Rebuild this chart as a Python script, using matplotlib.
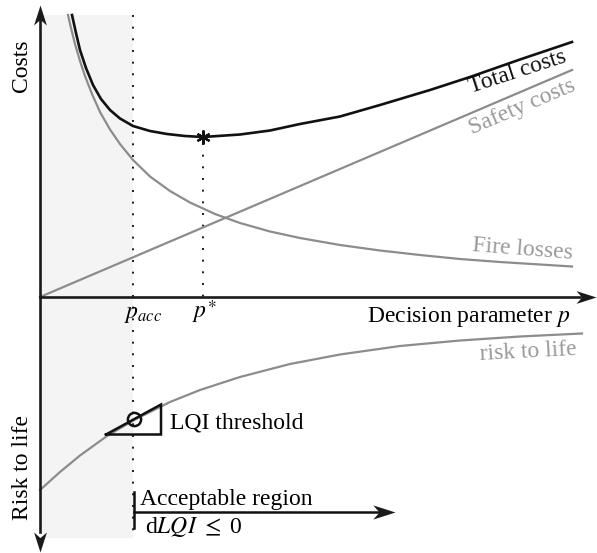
import numpy as np
import matplotlib
matplotlib.use("Agg")
import matplotlib.pyplot as plt
from matplotlib.path import Path
from matplotlib.markers import MarkerStyle
from matplotlib.transforms import Affine2D

plt.rcParams['font.family'] = ['Liberation Serif', 'DejaVu Serif']
plt.rcParams['mathtext.fontset'] = 'stix'

# curves (arbitrary units, p along x)
p_total = [0.32, 0.36, 0.40, 0.46, 0.53, 0.61, 0.70, 0.80, 0.93, 1.10, 1.27, 1.45,
           1.63, 2.00, 2.30, 2.60, 3.00, 3.40, 3.90, 4.30, 4.80, 5.32]
total_costs = [2.82, 2.64, 2.47, 2.29, 2.12, 1.98, 1.87, 1.785, 1.71, 1.66, 1.63, 1.61,
               1.60, 1.625, 1.665, 1.73, 1.805, 1.92, 2.07, 2.20, 2.375, 2.55]

p_fire = [0.28, 0.31, 0.35, 0.40, 0.45, 0.52, 0.60, 0.70, 0.80, 0.93, 1.10, 1.30,
          1.50, 1.75, 2.00, 2.30, 2.60, 3.00, 3.40, 3.80, 4.20, 4.60, 5.00, 5.32]
fire_losses = [2.82, 2.69, 2.53, 2.36, 2.21, 2.03, 1.85, 1.675, 1.53, 1.37, 1.205, 1.06,
               0.945, 0.83, 0.74, 0.655, 0.59, 0.52, 0.465, 0.42, 0.38, 0.35, 0.325, 0.305]

p_safety = [0.0, 5.32]
safety_costs = [0.0, 2.27]

p_risk = [0.0, 0.20, 0.40, 0.67, 0.95, 1.30, 1.60, 2.00, 2.50, 3.00, 3.60, 4.20, 4.80, 5.42]
risk_to_life = [-1.93, -1.75, -1.585, -1.39, -1.225, -1.05, -0.93, -0.80, -0.67, -0.575,
                -0.49, -0.435, -0.395, -0.365]

p_acc = 0.93
p_star = 1.63
cost_star = 1.60
risk_acc = -1.22
tri_p = [0.66, 1.21, 1.21, 0.66]
tri_r = [-1.375, -1.075, -1.375, -1.375]

GRAY = '#8c8c8c'
TGRAY = '#999999'
FS = 17

fig = plt.figure(figsize=(5.97, 5.53), dpi=100)
ax = fig.add_axes([0, 0, 1, 1])
ax.set_xlim(-0.40, 5.57)
ax.set_ylim(-2.56, 2.97)
ax.axis('off')

head_path = Path([(0, 0), (-1, 0.32), (-0.72, 0), (-1, -0.32), (0, 0)],
                 [Path.MOVETO, Path.LINETO, Path.LINETO, Path.LINETO, Path.CLOSEPOLY])


def arrow_head(x, y, angle, ms=28.8):
    m = MarkerStyle(head_path, transform=Affine2D().rotate_deg(angle))
    ax.plot([x], [y], marker=m, ms=ms, color='#1a1a1a', mew=0, ls='none',
            clip_on=False, zorder=6)


# acceptable-region shading and p_acc line
ax.fill_between([0, p_acc], -2.41, 2.82, color='#f4f4f4', lw=0, zorder=0)
ax.plot([p_acc, p_acc], [2.82, -2.41], color='#1a1a1a', lw=1.4,
        ls=(0, (1, 5)), dash_capstyle='butt', zorder=1)
ax.plot([p_star, p_star], [cost_star - 0.06, 0], color='#1a1a1a', lw=1.4,
        ls=(0, (1, 5)), dash_capstyle='butt', zorder=1)

# axes with arrows
ax.plot([0, 0], [2.82, -2.35], color='#1a1a1a', lw=1.9, zorder=5)
arrow_head(0, 2.92, 90)
arrow_head(0, -2.55, -90)
ax.plot([0, 5.40], [0, 0], color='#1a1a1a', lw=1.9, zorder=5)
arrow_head(5.56, 0, 0)

# curves
ax.plot(p_safety, safety_costs, color=GRAY, lw=1.6, zorder=2)
ax.plot(p_fire, fire_losses, color=GRAY, lw=1.6, zorder=2)
ax.plot(p_total, total_costs, color='#111111', lw=1.9, zorder=3)
ax.plot(p_risk, risk_to_life, color=GRAY, lw=1.6, zorder=2)

ax.plot([p_star], [cost_star], marker=(6, 2, 0), ms=10, mew=1.6, color='#111111', zorder=4)

# LQI threshold triangle
ax.plot(tri_p, tri_r, color='#111111', lw=1.8, solid_joinstyle='miter', zorder=4)
ax.plot([p_acc + 0.01], [risk_acc], marker='o', ms=9.5, mfc='none', mec='#111111',
        mew=1.8, zorder=4)

# acceptable region arrow
ax.plot([p_acc + 0.01, p_acc + 0.01], [-1.95, -2.31], color='#111111', lw=1.8, zorder=4)
ax.plot([p_acc + 0.01, 3.40], [-2.15, -2.15], color='#111111', lw=1.8, zorder=4)
arrow_head(3.55, -2.15, 0, ms=32)

# texts
ax.text(-0.18, 2.31, 'Costs', rotation=90, ha='center', va='center', fontsize=FS)
ax.text(-0.18, -1.71, 'Risk to life', rotation=90, ha='center', va='center', fontsize=FS)
ax.text(5.30, -0.25, 'Decision parameter $p$', ha='right', va='baseline', fontsize=FS)
ax.text(0.84, -0.21, '$p_{acc}$', ha='left', va='baseline', fontsize=FS)
ax.text(1.52, -0.21, r'$p^{\ast}$', ha='left', va='baseline', fontsize=FS)
ax.text(4.78, 2.25, 'Total costs', rotation=18, rotation_mode='anchor',
        ha='center', va='center', fontsize=FS, color='#111111')
ax.text(4.82, 1.90, 'Safety costs', rotation=23, rotation_mode='anchor',
        ha='center', va='center', fontsize=FS, color=TGRAY)
ax.text(4.83, 0.48, 'Fire losses', rotation=-4.5, rotation_mode='anchor',
        ha='center', va='center', fontsize=FS, color=TGRAY)
ax.text(4.88, -0.55, 'risk to life', rotation=3, rotation_mode='anchor',
        ha='center', va='center', fontsize=FS, color=TGRAY)
ax.text(1.30, -1.31, 'LQI threshold', ha='left', va='baseline', fontsize=FS)
ax.text(1.00, -2.08, 'Acceptable region', ha='left', va='baseline', fontsize=FS)
ax.text(1.05, -2.36, r'd$\mathit{LQI}$ $\leq$ 0', ha='left', va='baseline', fontsize=FS)

fig.savefig('out.png', dpi=100)
